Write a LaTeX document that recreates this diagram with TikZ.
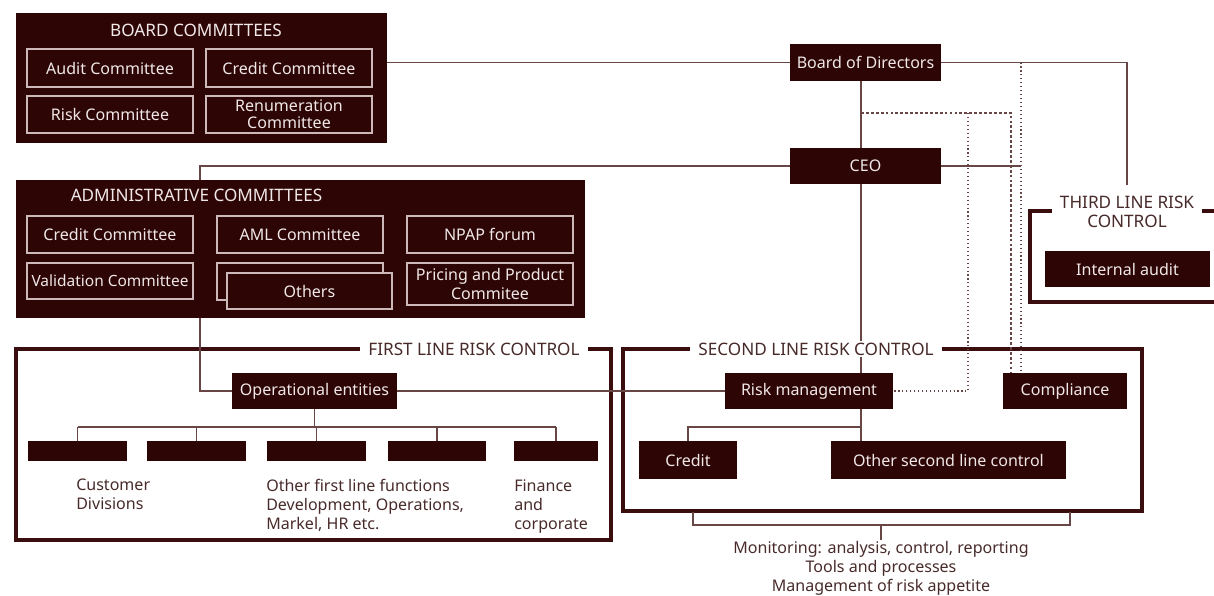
\documentclass[tikz,border=0pt]{standalone}
\usepackage{fontspec}
\setmainfont{Noto Sans}
\definecolor{wine}{RGB}{46,5,5}
\definecolor{pale}{RGB}{205,185,185}
\definecolor{wire}{RGB}{105,70,70}
\definecolor{frame}{RGB}{58,14,14}
\definecolor{ink}{RGB}{72,42,42}
\definecolor{snow}{RGB}{240,232,232}

\begin{document}
\begin{tikzpicture}[x=0.025cm, y=-0.025cm,
    font=\fontsize{11.4}{13.5}\selectfont,
    sz/.style 2 args={minimum width=#1*0.025cm, minimum height=#2*0.025cm},
    panel/.style={fill=wine, inner sep=0pt},
    cbox/.style={draw=pale, line width=0.8pt, text=snow, align=center, inner sep=0pt},
    unit/.style={fill=wine, text=snow, inner sep=0pt},
    bar/.style={fill=wine, inner sep=0pt, sz={#1}{20}},
    linebox/.style={draw=frame, line width=2.2pt, inner sep=0pt},
    boxtitle/.style={fill=white, text=ink, inner xsep=0.2cm, inner ysep=1pt, align=center,
      font=\fontsize{12.2}{13.5}\selectfont},
    headline/.style={text=snow, font=\fontsize{12.2}{13.5}\selectfont},
    link/.style={draw=wire, line width=0.8pt},
    note/.style={text=ink, align=left, anchor=north west, inner sep=0pt}
  ]
  \clip (0,0) rectangle (1214,595);

  % the three lines of defence
  \node[linebox, sz={595}{191}] (first) at (313.5,444.5) {};
  \node[linebox, sz={519}{162}] (second) at (882.5,430) {};
  \node[linebox, sz={210}{91}] (third) at (1135,256.5) {};

  % board committees
  \node[panel, sz={371}{130}] (boardc) at (201.5,78) {};
  \node[headline] (boardt) at (196,30) {BOARD COMMITTEES};
  \node[cbox, sz={166}{38}] (audit) at (110,68) {Audit Committee};
  \node[cbox, sz={166}{38}] (bcredit) at (289,68) {Credit Committee};
  \node[cbox, sz={166}{37}] (brisk) at (110,114.5) {Risk Committee};
  \node[cbox, sz={166}{37}, font=\fontsize{11.4}{12}\selectfont] (renum) at (289,114.5) {Renumeration\\Committee};

  % management and functions
  \node[unit, sz={151}{37}] (bod) at (865.5,62.5) {Board of Directors};
  \node[unit, sz={151}{36}] (ceo) at (865.5,166) {CEO};
  \node[unit, sz={165}{36}] (opent) at (314.5,391) {Operational entities};
  \node[unit, sz={168}{36}] (riskm) at (809,391) {Risk management};
  \node[unit, sz={124}{36}] (compl) at (1065,391) {Compliance};
  \node[unit, sz={98}{38}] (credit) at (688,460) {Credit};
  \node[unit, sz={235}{38}] (other) at (948.5,460) {Other second line control};
  \node[unit, sz={165}{36}] (intaudit) at (1127.5,269) {Internal audit};

  % first line units
  \node[bar=99] (u1) at (77.5,451) {};
  \node[bar=99] (u2) at (196.5,451) {};
  \node[bar=99] (u3) at (316.5,451) {};
  \node[bar=98] (u4) at (437,451) {};
  \node[bar=84] (u5) at (556,451) {};

  \coordinate (spine) at (861,0);
  \coordinate (bus) at (0,427);
  \coordinate (dash) at (1011,113);
  \coordinate (dot) at (968,0);
  \coordinate (audline) at (1021,0);
  \coordinate (adm) at (200,0);
  \coordinate (thirdtop) at (1127,185);

  % reporting lines
  \draw[link] (boardc.east |- bod.west) -- (bod.west);
  \draw[link] (bod.south -| spine) -- (ceo.north -| spine);
  \draw[link] (ceo.south -| spine) -- (riskm.north -| spine);
  \draw[link] (bod.east) -| (thirdtop);
  \draw[link] (ceo.east) -- (ceo.east -| audline);
  \draw[link, dotted] (bod.east -| audline) -- (compl.north -| audline);
  \draw[link, dash pattern=on 2pt off 1.5pt] (spine |- dash) -| (compl.north -| dash);
  \draw[link, dotted] (dot |- dash) |- (riskm.east);
  \draw[link] (ceo.west) -| (adm |- opent.west) -- (opent.west);
  \draw[link] (opent.east) -- (riskm.west);
  \draw[link] (opent.south) -- (opent.south |- bus);
  \draw[link] (u1.north |- bus) -- (u5.north |- bus);
  \foreach \u in {u1,u2,u3,u4,u5}
    \draw[link] (\u.north) -- (\u.north |- bus);
  \draw[link] (riskm.south -| spine) -- (other.north -| spine);
  \draw[link] (credit.north) |- (spine |- bus);

  % administrative committees
  \node[panel, sz={569}{138}] (admin) at (300.5,249) {};
  \node[headline] (admint) at (196.5,195) {ADMINISTRATIVE COMMITTEES};
  \node[cbox, sz={166}{37}] (acredit) at (110,234.5) {Credit Committee};
  \node[cbox, sz={166}{37}] (aml) at (300,234.5) {AML Committee};
  \node[cbox, sz={166}{37}] (npap) at (490,234.5) {NPAP forum};
  \node[cbox, sz={166}{36}, font=\fontsize{11}{13}\selectfont] (valid) at (110,281) {Validation Committee};
  \node[cbox, sz={166}{37}] (othersb) at (300,281.5) {};
  \node[cbox, fill=wine, sz={165}{36}] (others) at (309.5,291) {Others};
  \node[cbox, sz={166}{42}] (pricing) at (490,284) {Pricing and Product\\Commitee};

  % titles
  \node[boxtitle] (firstt) at (474,349) {FIRST LINE RISK CONTROL};
  \node[boxtitle] (secondt) at (816,349) {SECOND LINE RISK CONTROL};
  \node[boxtitle] (thirdt) at (1127,211.5) {THIRD LINE RISK\\CONTROL};

  % notes
  \node[note] (custn) at (76,479) {Customer\\Divisions};
  \node[note] (othern) at (266,479) {Other first line functions\\Development, Operations,\\Markel, HR etc.};
  \node[note] (finn) at (514,479) {Finance\\and\\corporate};

  \coordinate (brl) at (693,512);
  \coordinate (brr) at (1070,512);
  \coordinate (brm) at (881,525);
  \node[text=ink, align=center, anchor=north, inner sep=1pt] (monit) at (881,540)
    {Monitoring: analysis, control, reporting\\Tools and processes\\Management of risk appetite};
  \draw[link] (brl) |- (brr |- brm) -- (brr);
  \draw[link] (brm) -- (monit.north);
\end{tikzpicture}
\end{document}
